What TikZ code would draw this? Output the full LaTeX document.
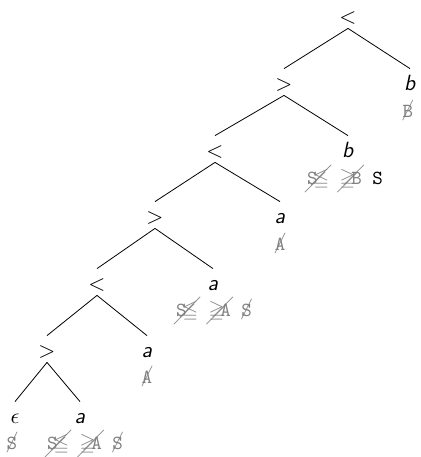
\documentclass[tikz,border=0pt]{standalone}
\usepackage{amssymb}
\usepackage{cancel}
\newcommand{\lf}[1]{\textsf{\textit{#1}}}
\newcommand{\gry}{\color{gray}}
\newcommand{\cS}{\cancel{\texttt{S}}}
\newcommand{\cle}{\cancel{\texttt{S}\kern-0.2em$\leqq$}}
\newcommand{\cge}[1]{\cancel{$\geqq$\kern-0.2em\texttt{#1}}}
\begin{document}
\begin{tikzpicture}[x=0.5pt,y=-0.5pt,
  tn/.style={anchor=base,inner sep=2.5pt,text height=8pt,text depth=0pt,font=\fontsize{11}{13}\selectfont\sffamily},
  ann/.style={anchor=base,inner sep=0pt,font=\fontsize{10}{12}\selectfont\ttfamily,text=gray},
  edge/.style={draw=black,line width=0.4pt}]
\useasboundingbox (0,0) rectangle (420,457);
\node[tn] (n0) at (348,23) {$<$};
\node[tn] (n1) at (284,90) {$>$};
\node[tn] (r1) at (410,90) {\lf{b}};
\node[tn] (n2) at (215,157) {$<$};
\node[tn] (r2) at (348,157) {\lf{b}};
\node[tn] (n3) at (155,223) {$>$};
\node[tn] (r3) at (280,223) {\lf{a}};
\node[tn] (n4) at (97,290) {$<$};
\node[tn] (r4) at (213,290) {\lf{a}};
\node[tn] (n5) at (47,357) {$>$};
\node[tn] (r5) at (147,357) {\lf{a}};
\node[tn] (n6) at (15,423) {$\epsilon$};
\node[tn] (r6) at (80,423) {\lf{a}};
\foreach \p/\c in {n0/n1,n0/r1,n1/n2,n1/r2,n2/n3,n2/r3,n3/n4,n3/r4,n4/n5,n4/r5,n5/n6,n5/r6}
  \draw[edge] (\p.south) -- (\c.north);
\node[ann] (a1) at (408,117) {\gry\cancel{\texttt{B}}};
\node[ann] (a2) at (345,184) {\gry\cle\ \cge{B}\ {\color{black}S}};
\node[ann] (a3) at (280,250) {\gry\cancel{\texttt{A}}};
\node[ann] (a4) at (214,316) {\gry\cle\ \cge{A}\ \cS};
\node[ann] (a5) at (147,383) {\gry\cancel{\texttt{A}}};
\node[ann] (a6) at (12,449) {\gry\cS};
\node[ann] (a7) at (85,449) {\gry\cle\ \cge{A}\ \cS};
\end{tikzpicture}
\end{document}
